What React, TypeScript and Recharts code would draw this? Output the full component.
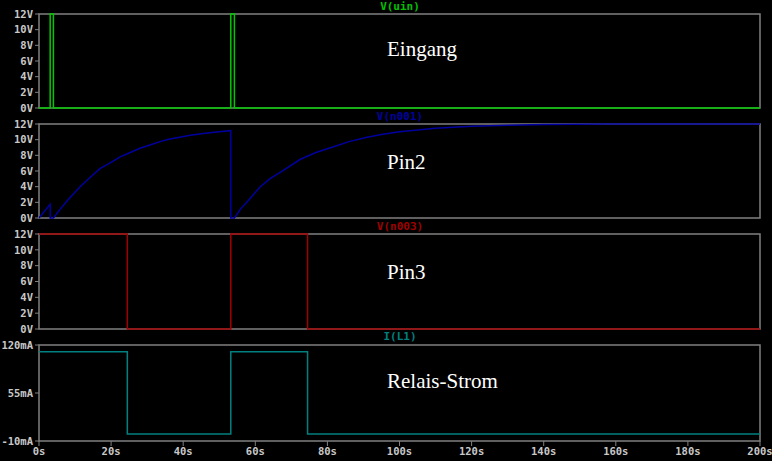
import React from 'react'
import { Line, LineChart, ReferenceArea, XAxis, YAxis } from 'recharts'

// V(uin) - Eingang
const uinTime = [0, 3.1, 3.1, 4.0, 4.0, 53.2, 53.2, 54.2, 54.2, 200]
const uinVolt = [0, 0, 12, 12, 0, 0, 12, 12, 0, 0]

// V(n001) - Pin2
const n001Time = [
  0, 3.1, 3.1, 4.0, 6, 8, 11.4, 14, 16.9, 20, 22.5, 25, 28, 31, 33.6, 36, 39, 42, 45, 48, 50, 53.2,
  53.2, 54.2, 56, 58, 61.4, 64, 68, 72.5, 77, 81.7, 86, 91, 95, 100, 110, 120, 130, 140, 157, 200,
]
const n001Volt = [
  0, 1.75, 0, 0, 1.2, 2.3, 4.0, 5.1, 6.3, 7.1, 7.8, 8.3, 8.9, 9.35, 9.75, 10.05, 10.3, 10.55, 10.75,
  10.9, 11.0, 11.15, 0, 0, 1.2, 2.2, 4.0, 5.0, 6.15, 7.5, 8.4, 9.1, 9.75, 10.3, 10.65, 11.0, 11.45,
  11.7, 11.85, 11.93, 12, 12,
]

// V(n003) - Pin3
const n003Time = [0, 24.5, 24.5, 53.2, 53.2, 74.5, 74.5, 200]
const n003Volt = [12, 12, 0, 0, 12, 12, 0, 0]

// I(L1) - Relais-Strom
const il1Time = [0, 24.5, 24.5, 53.2, 53.2, 74.5, 74.5, 200]
const il1Milli = [111, 111, -0.5, -0.5, 111, 111, -0.5, -0.5]

const voltTicks = [0, 2, 4, 6, 8, 10, 12]
const currentTicks = [-10, 55, 120]
const timeTicks = [0, 20, 40, 60, 80, 100, 120, 140, 160, 180, 200]

const W = 772
const GRID = '#808080'
const TEXT = '#c8c8c8'
const tickFont = { fill: TEXT, fontSize: 10.5, fontFamily: 'DejaVu Sans Mono', fontWeight: 'bold' }

const zip = (t: number[], v: number[]) => t.map((x, i) => ({ t: x, v: v[i] }))

type PaneProps = {
  top: number
  height: number
  margin: { top: number; right: number; bottom: number; left: number }
  data: { t: number; v: number }[]
  color: string
  domain: [number, number]
  ticks: number[]
  unit: string
  showTime?: boolean
}

function Pane({ top, height, margin, data, color, domain, ticks, unit, showTime }: PaneProps) {
  return (
    <div style={{ position: 'absolute', left: 0, top }}>
      <LineChart width={W} height={height} data={data} margin={margin}>
        <XAxis
          dataKey="t"
          type="number"
          domain={[0, 200]}
          ticks={timeTicks}
          hide={!showTime}
          height={20}
          tick={tickFont}
          tickFormatter={(v) => `${v}s`}
          tickSize={5}
          stroke={GRID}
          axisLine={false}
          interval={0}
        />
        <YAxis
          type="number"
          domain={domain}
          ticks={ticks}
          width={39}
          tick={tickFont}
          tickFormatter={(v) => `${v}${unit}`}
          tickSize={4}
          stroke={GRID}
          axisLine={false}
          interval={0}
        />
        <ReferenceArea x1={0} x2={200} y1={domain[0]} y2={domain[1]} fill="none" stroke={GRID} strokeWidth={1.5} />
        <Line
          dataKey="v"
          type="linear"
          stroke={color}
          strokeWidth={1.5}
          dot={false}
          isAnimationActive={false}
        />
      </LineChart>
    </div>
  )
}

const traceLabel: React.CSSProperties = {
  position: 'absolute',
  width: 80,
  left: 360,
  textAlign: 'center',
  fontFamily: 'DejaVu Sans Mono',
  fontWeight: 'bold',
  fontSize: 11,
  lineHeight: '12px',
}

const note: React.CSSProperties = {
  position: 'absolute',
  left: 387,
  color: '#ffffff',
  fontFamily: 'Liberation Serif',
  fontSize: 21,
  lineHeight: '21px',
}

export default function App() {
  return (
    <div style={{ position: 'relative', width: W, height: 461, background: '#000', overflow: 'hidden' }}>
      <style>{`body{margin:0;background:#000}`}</style>
      <Pane
        top={0}
        height={118}
        margin={{ top: 14, right: 12, bottom: 10, left: 0 }}
        data={zip(uinTime, uinVolt)}
        color="#00c800"
        domain={[0, 12]}
        ticks={voltTicks}
        unit="V"
      />
      <Pane
        top={110}
        height={118}
        margin={{ top: 14, right: 12, bottom: 10, left: 0 }}
        data={zip(n001Time, n001Volt)}
        color="#0000a0"
        domain={[0, 12]}
        ticks={voltTicks}
        unit="V"
      />
      <Pane
        top={220}
        height={118}
        margin={{ top: 14, right: 12, bottom: 9, left: 0 }}
        data={zip(n003Time, n003Volt)}
        color="#a00000"
        domain={[0, 12]}
        ticks={voltTicks}
        unit="V"
      />
      <Pane
        top={330}
        height={131}
        margin={{ top: 15, right: 12, bottom: 0, left: 0 }}
        data={zip(il1Time, il1Milli)}
        color="#008080"
        domain={[-10, 120]}
        ticks={currentTicks}
        unit="mA"
        showTime
      />
      <div style={{ ...traceLabel, top: 1, color: '#00c000' }}>V(uin)</div>
      <div style={{ ...traceLabel, top: 111, color: '#0000a0' }}>V(n001)</div>
      <div style={{ ...traceLabel, top: 221, color: '#a00000' }}>V(n003)</div>
      <div style={{ ...traceLabel, top: 331, color: '#008080' }}>I(L1)</div>
      <div style={{ ...note, top: 39 }}>Eingang</div>
      <div style={{ ...note, top: 152 }}>Pin2</div>
      <div style={{ ...note, top: 262 }}>Pin3</div>
      <div style={{ ...note, top: 371 }}>Relais-Strom</div>
    </div>
  )
}
